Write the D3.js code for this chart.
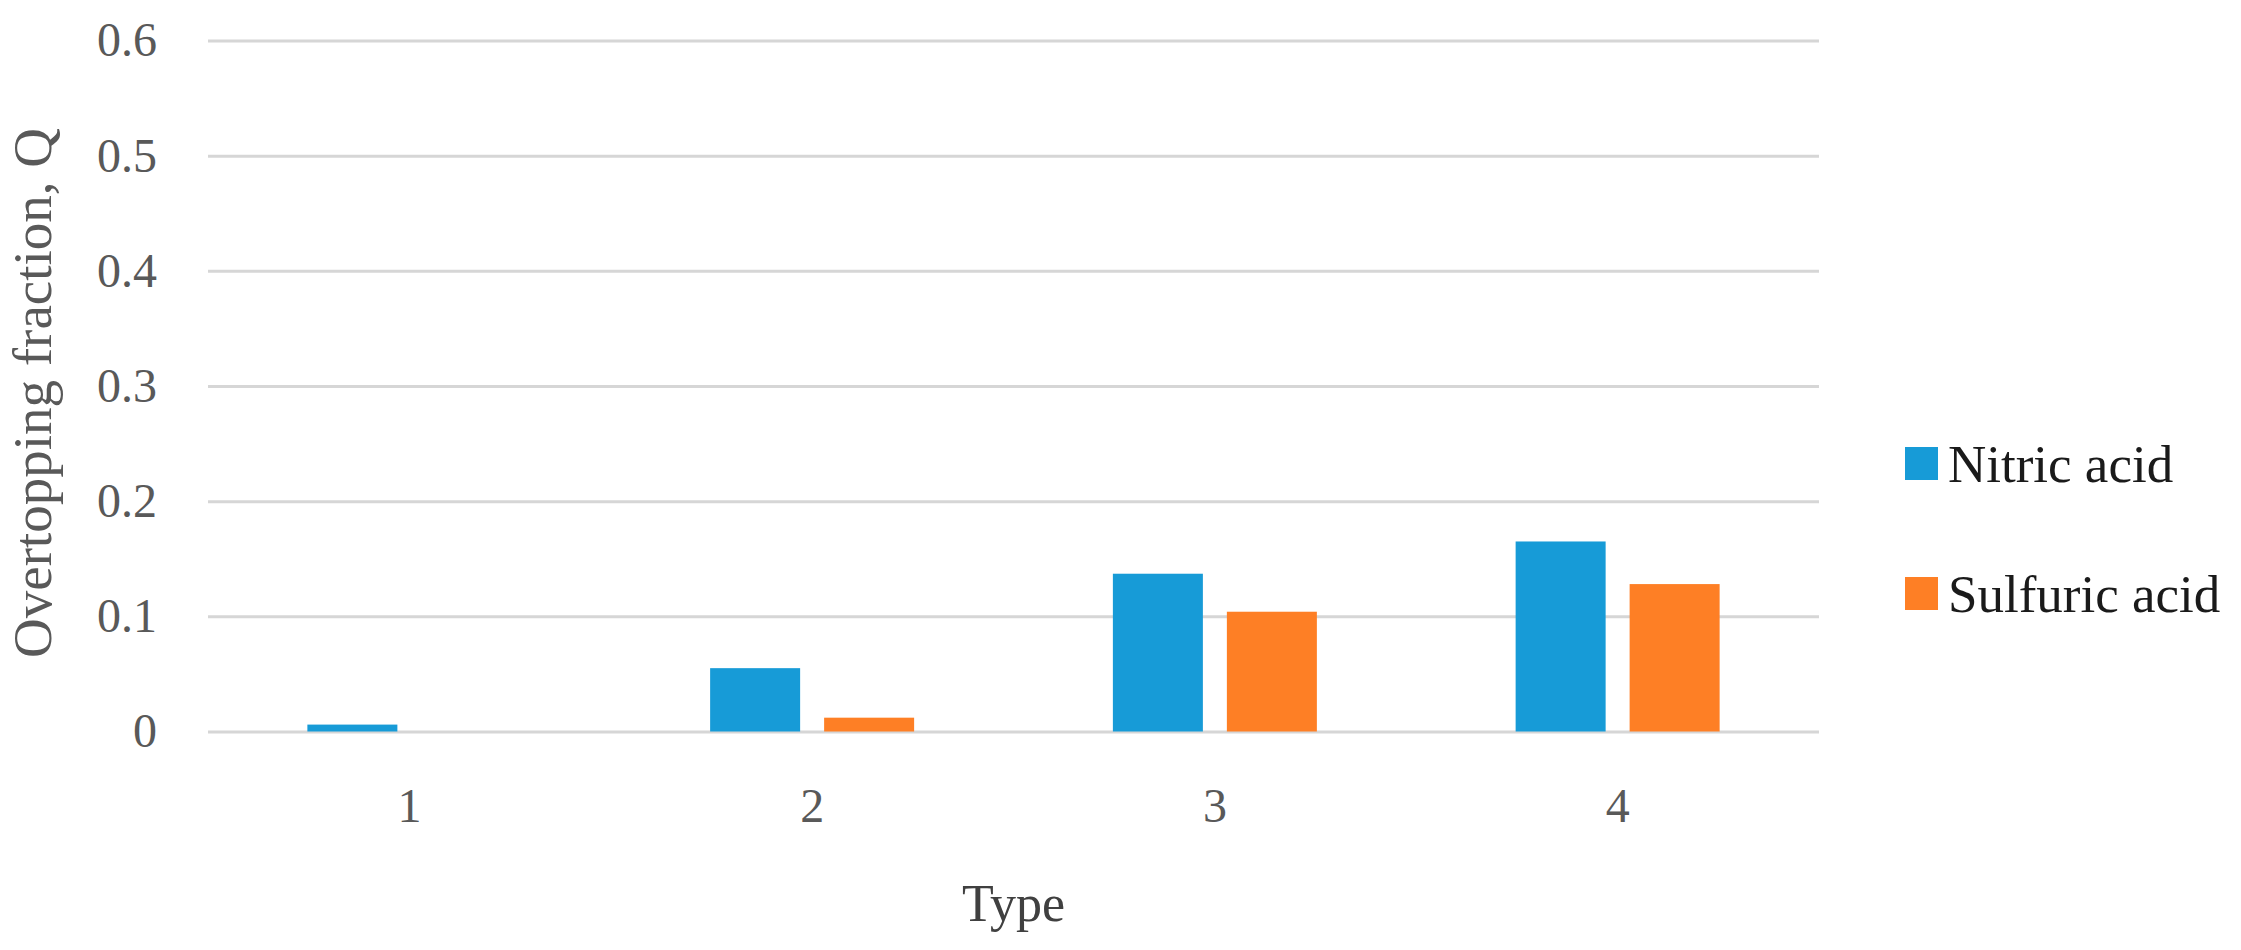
<!DOCTYPE html>
<html>
<head>
<meta charset="utf-8">
<script src="https://cdn.jsdelivr.net/npm/d3@7"></script>
<style>
  body { margin: 0; background: #fff; }
  text { font-family: "Liberation Serif", "Times New Roman", serif; }
</style>
</head>
<body>
<svg></svg>
<script>
const types = ["1", "2", "3", "4"]
const seriesNames = ["Nitric acid", "Sulfuric acid"]
const nitric = [0.006, 0.055, 0.137, 0.165]
const sulfuric = [0, 0.012, 0.104, 0.128]
const yTicks = [0, 0.1, 0.2, 0.3, 0.4, 0.5, 0.6]

const colors = ["#179bd7", "#fe7f25"]

let margin = { top: 40.5, right: 422, bottom: 218.5, left: 208 },
    width = 2241 - margin.left - margin.right,
    height = 950 - margin.top - margin.bottom;

let svg = d3.select("svg")
    .attr("width", 2241)
    .attr("height", 950)

let g = svg.append("g")
    .attr("transform", "translate(" + margin.left + "," + margin.top + ")")

// rows for grouped bars
let rows = types.map((t, i) => ({ type: t, "Nitric acid": nitric[i], "Sulfuric acid": sulfuric[i] }))

let xScale = d3.scaleBand()
    .domain(types)
    .range([0, width])
    .paddingInner(0.4935)
    .paddingOuter(0.4935 / 2)

let xSub = d3.scaleBand()
    .domain(seriesNames)
    .range([0, xScale.bandwidth()])
    .paddingInner(0.2105)

let yScale = d3.scaleLinear()
    .domain([0, 0.6])
    .range([height, 0])

// gridlines
g.append("g")
    .call(d3.axisLeft(yScale).tickValues(yTicks).tickSize(-width).tickFormat(""))
    .call(ax => ax.select(".domain").remove())
    .call(ax => ax.selectAll("line").attr("stroke", "#d6d6d6").attr("stroke-width", 3))

// y tick labels
g.append("g")
    .call(d3.axisLeft(yScale).tickValues(yTicks).tickSize(0).tickPadding(51)
        .tickFormat(d => d === 0 ? "0" : d3.format(".1f")(d)))
    .call(ax => ax.select(".domain").remove())
    .call(ax => ax.selectAll("text")
        .attr("font-family", "Liberation Serif")
        .attr("font-size", 48)
        .attr("fill", "#595959"))

// x tick labels
g.append("g")
    .attr("transform", "translate(0," + height + ")")
    .call(d3.axisBottom(xScale).tickSize(0).tickPadding(56))
    .call(ax => ax.select(".domain").remove())
    .call(ax => ax.selectAll("text")
        .attr("font-family", "Liberation Serif")
        .attr("font-size", 48)
        .attr("fill", "#595959"))

// bars
g.append("g")
    .selectAll("g")
    .data(rows)
    .enter().append("g")
        .attr("transform", d => "translate(" + xScale(d.type) + ",0)")
        .selectAll("rect")
        .data(d => seriesNames.map((k, i) => ({ key: k, value: d[k], color: colors[i] })))
        .enter().append("rect")
            .attr("x", d => xSub(d.key))
            .attr("y", d => yScale(d.value))
            .attr("width", xSub.bandwidth())
            .attr("height", d => height - yScale(d.value))
            .attr("fill", d => d.color)

// axis titles
svg.append("text")
    .attr("transform", "translate(51," + (margin.top + height / 2 + 7) + ") rotate(-90)")
    .attr("text-anchor", "middle")
    .attr("font-size", 55)
    .attr("fill", "#595959")
    .text("Overtopping fraction, Q")

svg.append("text")
    .attr("x", margin.left + width / 2)
    .attr("y", 921)
    .attr("text-anchor", "middle")
    .attr("font-size", 52)
    .attr("fill", "#404040")
    .text("Type")

// legend
const legend = svg.append("g")
    .attr("transform", "translate(1905, 447)")

legend.selectAll("rect")
    .data(seriesNames)
    .enter()
    .append("rect")
    .attr("x", 0)
    .attr("y", (d, i) => i * 130)
    .attr("width", 33)
    .attr("height", 33)
    .attr("fill", (d, i) => colors[i])

legend.selectAll("text")
    .data(seriesNames)
    .enter()
    .append("text")
    .text(d => d)
    .attr("x", 43)
    .attr("y", (d, i) => i * 130 + 35)
    .attr("font-size", 53)
    .attr("fill", "#1a1a1a")
</script>
</body>
</html>
